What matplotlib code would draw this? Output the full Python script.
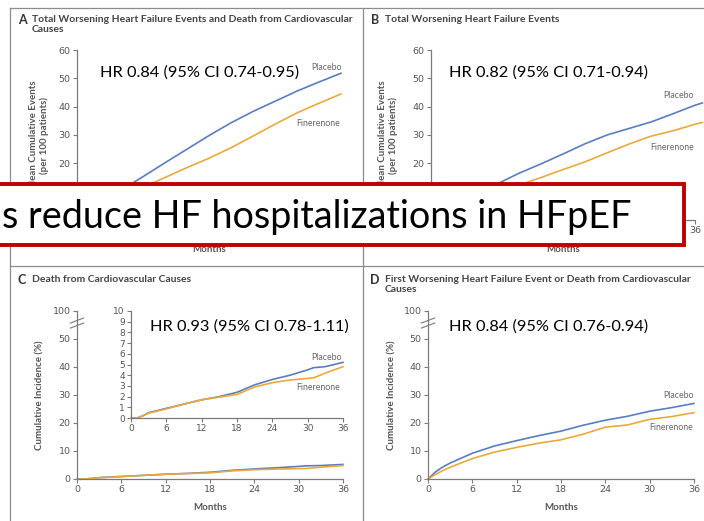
import matplotlib
matplotlib.use("Agg")
import matplotlib.pyplot as plt
from matplotlib.patches import Rectangle
from matplotlib.lines import Line2D

# ---- data ----
months_ab = [0, 3, 6, 9, 12, 15, 18, 21, 24, 27, 30, 33, 36]
a_placebo = [0, 5.5, 10.5, 15.3, 20.2, 25.0, 29.8, 34.3, 38.3, 41.9, 45.5, 48.7, 51.8]
a_finer = [0, 4.0, 8.0, 11.5, 15.0, 18.5, 21.8, 25.5, 29.6, 33.8, 37.8, 41.2, 44.5]

months_b = [0, 3, 6, 9, 12, 15, 18, 21, 24, 27, 30, 33, 36, 37]
b_placebo = [0, 4.5, 8.7, 12.7, 16.5, 19.8, 23.3, 26.9, 30.0, 32.3, 34.6, 37.5, 40.5, 41.3]
b_finer = [0, 3.2, 6.3, 9.4, 12.3, 15.0, 17.8, 20.5, 23.7, 26.8, 29.6, 31.5, 33.8, 34.4]

months_c = [0, 1, 2, 3, 6, 9, 12, 15, 18, 21, 24, 27, 30, 31, 33, 36]
c_placebo = [0, 0, 0.2, 0.5, 0.9, 1.3, 1.7, 2.0, 2.4, 3.1, 3.6, 4.0, 4.5, 4.7, 4.8, 5.2]
c_finer = [0, 0, 0.2, 0.45, 0.85, 1.3, 1.7, 1.95, 2.2, 2.9, 3.3, 3.55, 3.7, 3.75, 4.2, 4.8]

months_d = [0, 1, 2, 3, 6, 9, 12, 15, 18, 21, 24, 27, 30, 33, 36]
d_placebo = [0, 2.5, 4.3, 5.7, 9.2, 11.8, 13.7, 15.5, 17.1, 19.2, 21.0, 22.4, 24.2, 25.5, 27.0]
d_finer = [0, 1.6, 3.0, 4.2, 7.3, 9.6, 11.3, 12.8, 14.0, 16.0, 18.5, 19.3, 21.3, 22.3, 23.7]

x_ticks = [0, 6, 12, 18, 24, 30, 36]
y_ticks = [0, 10, 20, 30, 40, 50, 60]
hr_texts = ["HR 0.84 (95% CI 0.74-0.95)", "HR 0.82 (95% CI 0.71-0.94)",
            "HR 0.93 (95% CI 0.78-1.11)", "HR 0.84 (95% CI 0.76-0.94)"]
titles = ["Total Worsening Heart Failure Events and Death from Cardiovascular\nCauses",
          "Total Worsening Heart Failure Events",
          "Death from Cardiovascular Causes",
          "First Worsening Heart Failure Event or Death from Cardiovascular\nCauses"]
banner = "s reduce HF hospitalizations in HFpEF"

BLUE = "#5a7dbf"
ORANGE = "#eaa93c"
GREY = "#7a7a7a"
TXT = "#555555"

W, H = 704, 521
fig = plt.figure(figsize=(W / 100, H / 100), dpi=100)
fig.patch.set_facecolor("white")


def fx(px):
    return px / W


def fy(py):
    return 1 - py / H


def px_axes(left, top, right, bottom):
    return fig.add_axes([fx(left), fy(bottom), (right - left) / W, (bottom - top) / H])


def style(ax, fs=6.8):
    for s in ["top", "right"]:
        ax.spines[s].set_visible(False)
    for s in ["left", "bottom"]:
        ax.spines[s].set_color(GREY)
        ax.spines[s].set_linewidth(0.9)
    ax.tick_params(colors=GREY, labelcolor=TXT, labelsize=fs, length=3, width=0.8, pad=1.5)
    ax.set_facecolor("none")


def curves(ax, x, p, f):
    ax.plot(x, p, color=BLUE, lw=1.2, clip_on=False)
    ax.plot(x, f, color=ORANGE, lw=1.2, clip_on=False)


def ftext(px, py, s, **kw):
    return fig.text(fx(px), fy(py), s, **kw)


def break_marks(ax, yv):
    for dy in (-1.2, 0.6):
        ax.plot([-0.9, 0.9], [yv + dy - 0.9, yv + dy + 0.9], color=GREY, lw=0.8, clip_on=False)


def label_axes(ax, ylab, ylab_x, xlab_y):
    # axis titles placed at their pixel positions in the figure
    ax.set_xlabel("Months", fontsize=7, color=TXT, fontweight="bold", family="Lato")
    ax.set_ylabel(ylab, fontsize=7, color=TXT, fontweight="bold", family="Lato")
    bb = ax.get_position()
    ax.xaxis.set_label_coords(0.5, (fy(xlab_y) - bb.y0) / bb.height)
    ax.yaxis.set_label_coords((fx(ylab_x) - bb.x0) / bb.width, 0.5)
    ax.xaxis.label.set_va("center")
    ax.yaxis.label.set_va("center")


# ---- panel frame lines ----
for (x0, y0, x1, y1) in [(10, 8, 704, 8), (10, 266, 704, 266), (10, 8, 10, 521), (363, 8, 363, 521)]:
    fig.add_artist(Line2D([fx(x0), fx(x1)], [fy(y0), fy(y1)], color="#8c8c8c", lw=0.9))

# ---- titles ----
title_pos = [(18, 20, 32), (371, 20, 385), (18, 280, 32), (370, 280, 385)]
for letter, (lx, ly, tx), t in zip("ABCD", title_pos, titles):
    ftext(lx, ly, letter, fontsize=9, fontweight="bold", color="#333333", va="center", family="Lato")
    ftext(tx, ly - 5.5, t, fontsize=7.5, fontweight="bold", color="#444444", va="top",
          family="Lato", linespacing=1.15)

# ---- panel A ----
axA = px_axes(77, 50, 341, 220)
style(axA)
curves(axA, months_ab, a_placebo, a_finer)
axA.set_xlim(0, 36)
axA.set_ylim(0, 60)
axA.set_yticks(y_ticks)
axA.set_yticklabels(["", "", "20", "30", "40", "50", "60"])
axA.set_xticks(x_ticks)
axA.set_xticklabels([""] * 7)
label_axes(axA, "Mean Cumulative Events\n(per 100 patients)", 39, 249.5)

# ---- panel B ----
axB = px_axes(431, 50, 695, 220)
style(axB)
curves(axB, months_b, b_placebo, b_finer)
axB.set_xlim(0, 36)
axB.set_ylim(0, 60)
axB.set_yticks(y_ticks)
axB.set_yticklabels(["", "", "20", "30", "40", "50", "60"])
axB.set_xticks(x_ticks)
axB.set_xticklabels(["", "", "", "", "", "", "36"])
label_axes(axB, "Mean Cumulative Events\n(per 100 patients)", 388, 249.5)

# ---- panel C ----
axC = px_axes(77, 311, 343, 479)
style(axC)
curves(axC, months_c, c_placebo, c_finer)
axC.set_xlim(0, 36)
axC.set_ylim(0, 60)
axC.set_yticks(y_ticks)
axC.set_yticklabels(["0", "10", "20", "30", "40", "50", "100"])
axC.set_xticks(x_ticks)
break_marks(axC, 56)
label_axes(axC, "Cumulative Incidence (%)", 40, 508)

axCi = px_axes(131, 311, 343, 418)
style(axCi, fs=6.5)
curves(axCi, months_c, c_placebo, c_finer)
axCi.set_xlim(0, 36)
axCi.set_ylim(0, 10)
axCi.set_yticks(range(11))
axCi.set_xticks(x_ticks)

# ---- panel D ----
axD = px_axes(428, 311, 694, 479)
style(axD)
curves(axD, months_d, d_placebo, d_finer)
axD.set_xlim(0, 36)
axD.set_ylim(0, 60)
axD.set_yticks(y_ticks)
axD.set_yticklabels(["0", "10", "20", "30", "40", "50", "100"])
axD.set_xticks(x_ticks)
break_marks(axD, 56)
label_axes(axD, "Cumulative Incidence (%)", 392, 508)

# ---- curve labels ----
lab_pos = [(327, 68, 318, 123), (678, 95, 672, 147), (327, 357, 318, 388), (678, 396, 671, 428)]
for (px1, py1, px2, py2) in lab_pos:
    ftext(px1, py1, "Placebo", fontsize=6.3, color="#666666", ha="center", va="center", family="Lato")
    ftext(px2, py2, "Finerenone", fontsize=6.3, color="#666666", ha="center", va="center", family="Lato")

# ---- HR annotations ----
hr_pos = [(100, 73), (449, 73), (150, 327), (449, 327)]
for (hx, hy), t in zip(hr_pos, hr_texts):
    ftext(hx, hy, t, fontsize=11.8, color="black", va="center", family="Lato")

# ---- banner box over the middle ----
box = Rectangle((fx(-20), fy(245)), fx(704), (245 - 184) / H, transform=fig.transFigure,
                facecolor="white", edgecolor="#c00000", lw=2.8, zorder=10)
fig.add_artist(box)
ftext(2, 228, banner, fontsize=27.2, color="black", va="baseline", family="Lato", zorder=11)

fig.savefig("out.png", dpi=100, facecolor="white")
